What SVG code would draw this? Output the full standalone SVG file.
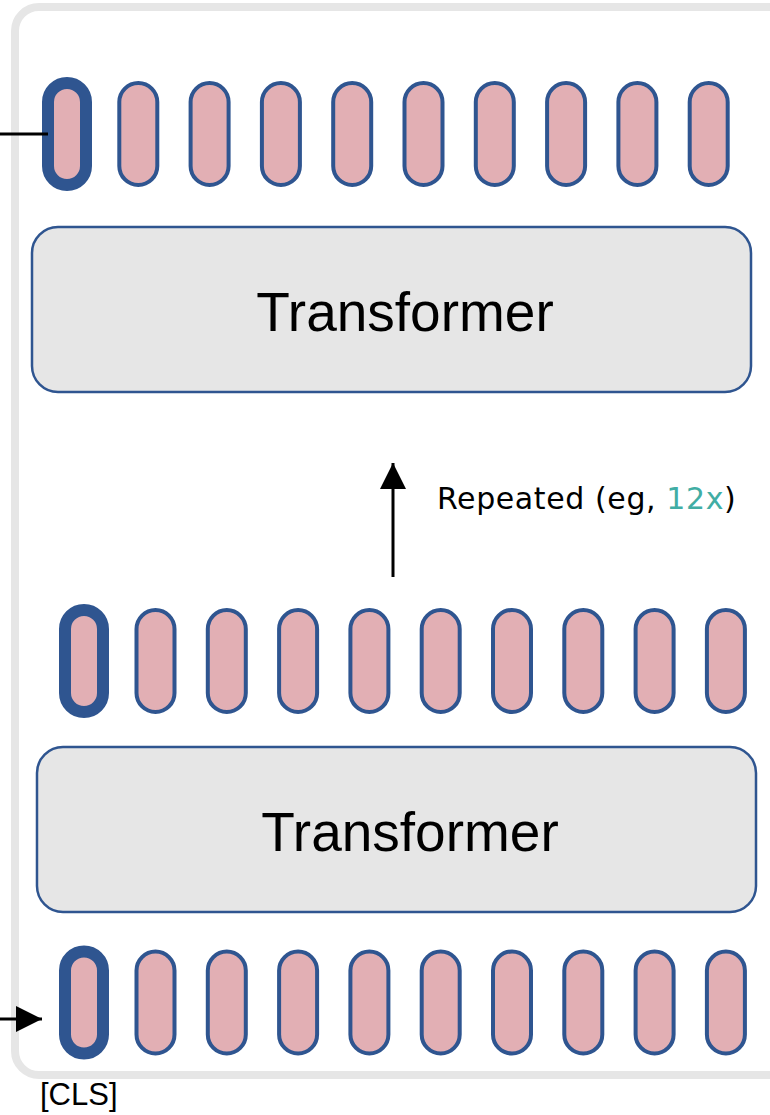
<svg xmlns="http://www.w3.org/2000/svg" width="770" height="1115" viewBox="0 0 770 1115">
  <style>
    .frame { fill: none; stroke: #e6e6e6; stroke-width: 8; }
    .tok { fill: #e2afb4; stroke: #2f5590; stroke-width: 4; }
    .cls { fill: #e2afb4; stroke: #2f5590; stroke-width: 12; }
    .block { fill: #e6e6e6; stroke: #2f5590; stroke-width: 2.5; }
    .block-label { font-family: "Liberation Sans", Arial, sans-serif; font-size: 55px; fill: #000; text-anchor: middle; }
    .note { font-family: "DejaVu Sans", sans-serif; font-size: 30px; letter-spacing: 0.6px; fill: #000; }
    .teal { fill: #41ada4; }
    .tag { font-family: "Liberation Sans", Arial, sans-serif; font-size: 31px; fill: #000; }
    .wire { stroke: #000; stroke-width: 3; fill: none; }
  </style>
  <defs>
    <marker id="head" viewBox="0 0 10 10" refX="10" refY="5" markerWidth="26" markerHeight="26" markerUnits="userSpaceOnUse" orient="auto">
      <path d="M0,0 L10,5 L0,10 z" fill="#000"/>
    </marker>
    <rect id="pill" x="-19" y="-51" width="38" height="102" rx="19" ry="19"/>
  </defs>

  <!-- outer frame, runs past the right edge -->
  <rect class="frame" x="15" y="7" width="820" height="1068" rx="24" ry="24"/>

  <!-- output token row -->
  <g id="tokens-out">
    <use href="#pill" class="cls" x="67" y="134"/>
    <use href="#pill" class="tok" x="138.3" y="134"/>
    <use href="#pill" class="tok" x="209.6" y="134"/>
    <use href="#pill" class="tok" x="280.9" y="134"/>
    <use href="#pill" class="tok" x="352.2" y="134"/>
    <use href="#pill" class="tok" x="423.5" y="134"/>
    <use href="#pill" class="tok" x="494.8" y="134"/>
    <use href="#pill" class="tok" x="566.1" y="134"/>
    <use href="#pill" class="tok" x="637.4" y="134"/>
    <use href="#pill" class="tok" x="708.7" y="134"/>
  </g>

  <!-- upper transformer block -->
  <g id="transformer-top">
    <rect class="block" x="32" y="227" width="719" height="165" rx="26" ry="26"/>
    <text class="block-label" x="405" y="331">Transformer</text>
  </g>

  <!-- repetition label -->
  <g id="repeat-label">
    <text class="note" x="437" y="509">Repeated (eg, <tspan class="teal">12x</tspan>)</text>
  </g>

  <!-- hidden token row -->
  <g id="tokens-mid">
    <use href="#pill" class="cls" x="84" y="661"/>
    <use href="#pill" class="tok" x="155.5" y="661"/>
    <use href="#pill" class="tok" x="226.8" y="661"/>
    <use href="#pill" class="tok" x="298.1" y="661"/>
    <use href="#pill" class="tok" x="369.4" y="661"/>
    <use href="#pill" class="tok" x="440.7" y="661"/>
    <use href="#pill" class="tok" x="512" y="661"/>
    <use href="#pill" class="tok" x="583.3" y="661"/>
    <use href="#pill" class="tok" x="654.6" y="661"/>
    <use href="#pill" class="tok" x="725.9" y="661"/>
  </g>

  <!-- lower transformer block -->
  <g id="transformer-bottom">
    <rect class="block" x="37" y="747" width="719" height="165" rx="26" ry="26"/>
    <text class="block-label" x="410" y="851">Transformer</text>
  </g>

  <!-- input token row -->
  <g id="tokens-in">
    <use href="#pill" class="cls" x="84" y="1002.5"/>
    <use href="#pill" class="tok" x="155.5" y="1002.5"/>
    <use href="#pill" class="tok" x="226.8" y="1002.5"/>
    <use href="#pill" class="tok" x="298.1" y="1002.5"/>
    <use href="#pill" class="tok" x="369.4" y="1002.5"/>
    <use href="#pill" class="tok" x="440.7" y="1002.5"/>
    <use href="#pill" class="tok" x="512" y="1002.5"/>
    <use href="#pill" class="tok" x="583.3" y="1002.5"/>
    <use href="#pill" class="tok" x="654.6" y="1002.5"/>
    <use href="#pill" class="tok" x="725.9" y="1002.5"/>
  </g>

  <g id="cls-label">
    <text class="tag" x="40" y="1105">[CLS]</text>
  </g>

  <!-- connectors -->
  <g id="connectors">
    <line class="wire" x1="0" y1="134" x2="48" y2="134"/>
    <line class="wire" x1="393" y1="577" x2="393" y2="463" marker-end="url(#head)"/>
    <line class="wire" x1="0" y1="1019" x2="42" y2="1019" marker-end="url(#head)"/>
  </g>
</svg>
